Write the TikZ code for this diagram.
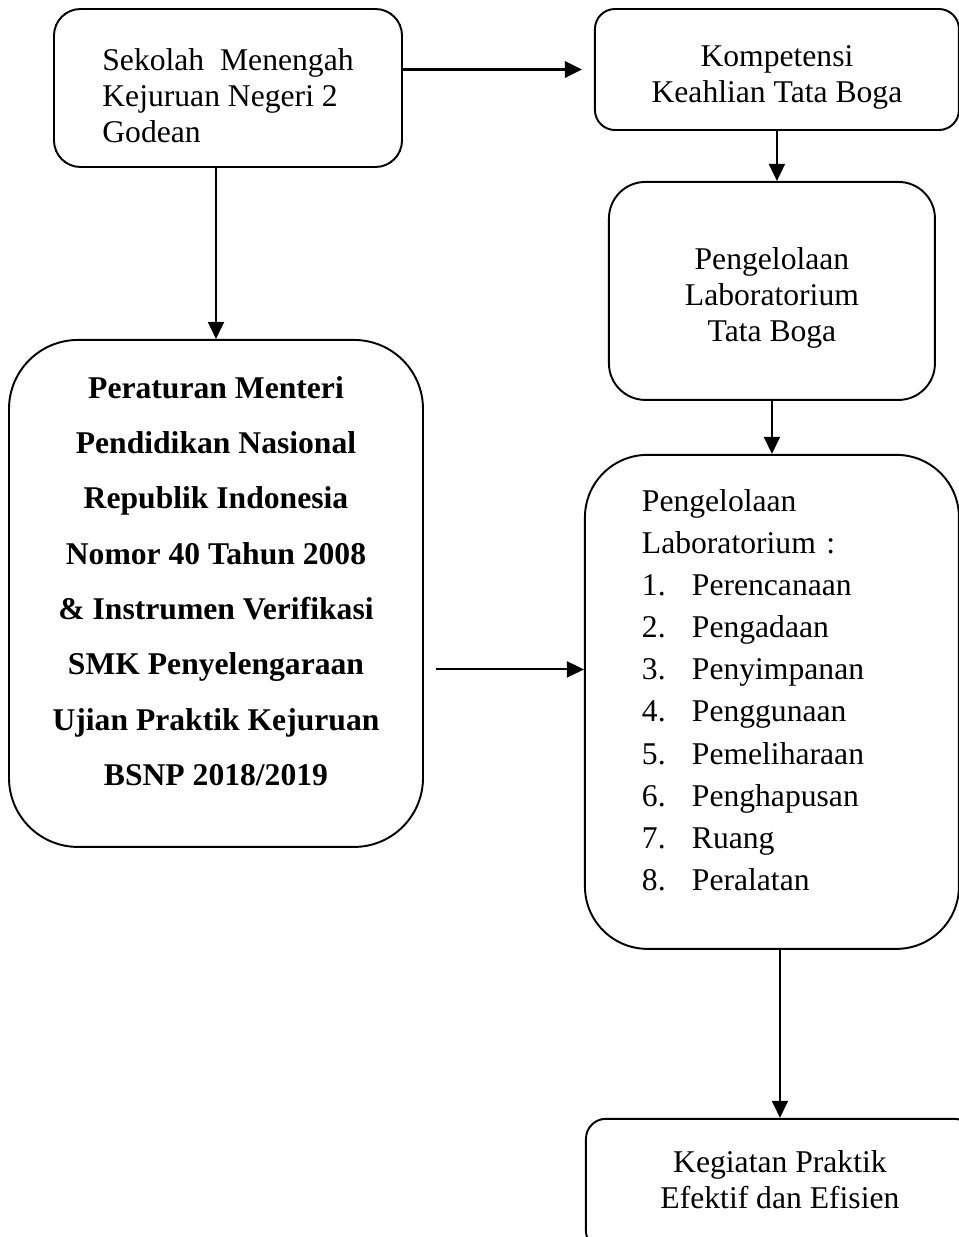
\documentclass[tikz,border=0pt]{standalone}
\usepackage{fontspec}
\setmainfont{Liberation Serif}
\usepackage{tikz}
\usetikzlibrary{positioning}
\usetikzlibrary{arrows.meta}
\tikzset{>={Triangle[width=3.2mm,length=3.4mm]}}
\newcommand{\butir}[2]{\makebox[1cm][l]{#1}#2}

\begin{document}
\begin{tikzpicture}[line width=1.1pt, box/.style={rectangle, draw=black, line width=1.1pt, inner sep=0pt, font=\fontsize{18}{20.5}\selectfont}, boldbox/.style={box, font=\fontsize{18}{31.5}\selectfont\bfseries}, listbox/.style={box, font=\fontsize{18}{24}\selectfont}]
    \useasboundingbox (0,0) rectangle (19.18,-24.74);

    %Nodes
    \node[box, rounded corners=0.53cm, minimum width=6.96cm, minimum height=3.16cm, align=left](smk) at (4.56,-1.76){\rule{0pt}{0.73cm}Sekolah\ \ Menengah\\Kejuruan Negeri 2\\Godean};
    \node[box, rounded corners=0.4cm, minimum width=7.28cm, minimum height=2.42cm, align=center](kompetensi)[right=3.82cm of smk.north east, anchor=north west]{\rule{0pt}{0.73cm}Kompetensi\\Keahlian Tata Boga};
    \node[box, rounded corners=0.73cm, minimum width=6.52cm, minimum height=4.36cm, align=center](pengelolaan)[below=1cm of kompetensi, xshift=-0.1cm]{\rule{0pt}{0.73cm}Pengelolaan\\Laboratorium\\Tata Boga};
    \node[listbox, rounded corners=1.25cm, minimum width=7.48cm, minimum height=9.88cm, text width=5.2cm, align=left](tahapan)[below=1.06cm of pengelolaan]{Pengelolaan\\Laboratorium :\\\butir{1.}{Perencanaan}\\\butir{2.}{Pengadaan}\\\butir{3.}{Penyimpanan}\\\butir{4.}{Penggunaan}\\\butir{5.}{Pemeliharaan}\\\butir{6.}{Penghapusan}\\\butir{7.}{Ruang}\\\butir{8.}{Peralatan}\rule[-0.48cm]{0pt}{0pt}};
    \node[boldbox, rounded corners=1.38cm, minimum width=8.28cm, minimum height=10.14cm, align=center](peraturan)[below=3.42cm of smk, xshift=-0.24cm]{Peraturan Menteri\\Pendidikan Nasional\\Republik Indonesia\\Nomor 40 Tahun 2008\\\& Instrumen Verifikasi\\SMK Penyelengaraan\\Ujian Praktik Kejuruan\\BSNP 2018/2019\rule[-0.5cm]{0pt}{0pt}};
    \node[box, rounded corners=0.4cm, minimum width=7.76cm, minimum height=2.64cm, align=center](kegiatan)[below=3.36cm of tahapan, xshift=0.16cm]{Kegiatan Praktik\\Efektif dan Efisien\rule[-0.2cm]{0pt}{0pt}};
    \coordinate (awal) at ([xshift=0.24cm, yshift=-1.52cm]peraturan.east);

    %Lines
    \draw[->, line width=1.6pt, shorten >=0.24cm] (kompetensi.west -| smk.east) -- (kompetensi.west);
    \draw[->] (peraturan.north |- smk.south) -- (peraturan.north);
    \draw[->] (kompetensi.south) -- (kompetensi.south |- pengelolaan.north);
    \draw[->] (pengelolaan.south) -- (pengelolaan.south |- tahapan.north);
    \draw[->] (awal) -- (awal -| tahapan.west);
    \draw[->] (kegiatan.north |- tahapan.south) -- (kegiatan.north);
\end{tikzpicture}
\end{document}
